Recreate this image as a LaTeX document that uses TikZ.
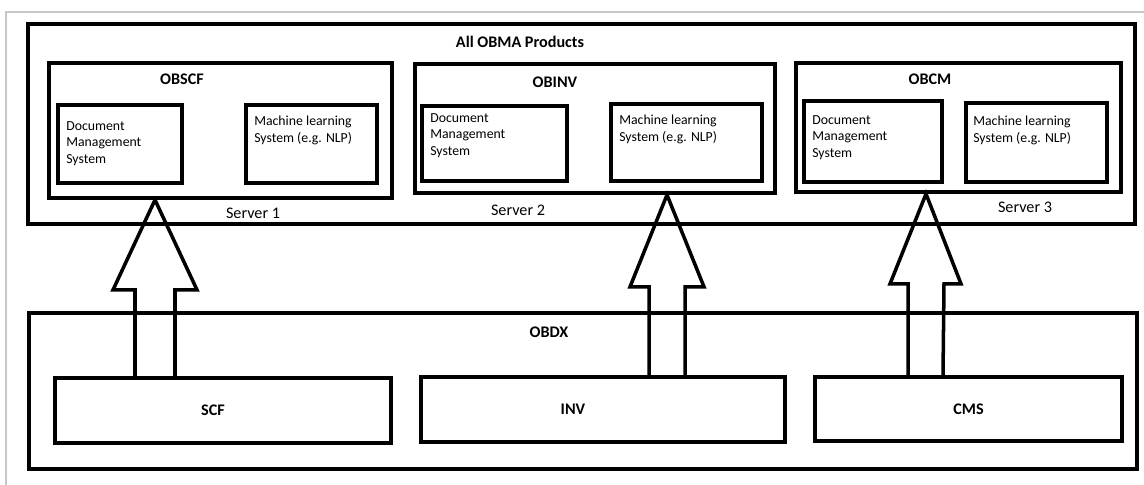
\documentclass[tikz,border=0pt]{standalone}
\usepackage{fontspec}
\setmainfont{Carlito}
\usetikzlibrary{calc}

\tikzset{
  box/.style={draw,line width=2.5pt,inner sep=0pt},
  inbox/.style={draw,line width=2.8pt,inner sep=0pt},
  title/.style={font=\fontsize{11.5}{13}\selectfont\bfseries},
  small/.style={font=\fontsize{9.8}{11.8}\selectfont,align=left,anchor=north west,inner sep=0pt},
  srv/.style={font=\fontsize{11.5}{13}\selectfont},
  fat/.style={line width=2.5pt}
}

\begin{document}
\begin{tikzpicture}[x=0.025cm,y=-0.025cm]
      \useasboundingbox (0,0) rectangle (1144,485);
      \draw[black!22,line width=1.4pt] (6,485) |- (1144,12);

      \node[box,minimum width=27.68cm,minimum height=5cm] (all) at (581.5,124) {};
      \node[title] (allt) at (520,42) {All OBMA Products};

      \node[box,minimum width=8.58cm,minimum height=3.38cm] (obscf) at (220.5,130.5) {};
      \node[title] (obscft) at (182,79) {OBSCF};
      \node[inbox,minimum width=3.1cm,minimum height=1.95cm] (dms1) at (120,144) {};
      \node[small] (dms1t) at (66,121) {Document\\Management\\System};
      \node[inbox,minimum width=3.28cm,minimum height=1.95cm] (ml1) at (311.5,144) {};
      \node[small] (ml1t) at (254,116) {Machine learning\\System (e.g. NLP)};
      \node[srv] (s1) at (253,213) {Server 1};

      \node[box,minimum width=9cm,minimum height=3.23cm] (obinv) at (595,128.5) {};
      \node[title] (obinvt) at (555,82) {OBINV};
      \node[inbox,minimum width=3.63cm,minimum height=1.88cm] (dms2) at (494.5,143.5) {};
      \node[small] (dms2t) at (430,113) {Document\\Management\\System};
      \node[inbox,minimum width=3.78cm,minimum height=1.93cm] (ml2) at (686.5,142.5) {};
      \node[small] (ml2t) at (619,115) {Machine learning\\System (e.g. NLP)};
      \node[srv] (s2) at (518,210) {Server 2};

      \node[box,minimum width=8.13cm,minimum height=3.23cm] (obcm) at (958.5,127.5) {};
      \node[title] (obcmt) at (930,79) {OBCM};
      \node[inbox,minimum width=3.45cm,minimum height=2.03cm] (dms3) at (873,141.5) {};
      \node[small] (dms3t) at (812,115) {Document\\Management\\System};
      \node[inbox,minimum width=3.53cm,minimum height=1.98cm] (ml3) at (1036.5,142.5) {};
      \node[small] (ml3t) at (973,116) {Machine learning\\System (e.g. NLP)};
      \node[srv] (s3) at (1025,207) {Server 3};

      \node[box,minimum width=27.7cm,minimum height=3.9cm] (obdx) at (583,391) {};
      \node[title] (obdxt) at (549,332) {OBDX};
      \node[inbox,minimum width=8.4cm,minimum height=1.63cm] (scf) at (223,410.5) {};
      \node[title] at (scf.center -| 213,0) {SCF};
      \node[inbox,minimum width=9.1cm,minimum height=1.63cm] (inv) at (603,409.5) {};
      \node[title] at (inv.center -| 573,0) {INV};
      \node[inbox,minimum width=7.68cm,minimum height=1.6cm] (cms) at (968.5,409) {};
      \node[title] at (cms.center) {CMS};

      \coordinate (t1) at (obscf.south -| 155,0);
      \coordinate (t2) at (obinv.south -| 667,0);
      \coordinate (t3) at (obcm.south -| 926,0);

      \draw[fat] ($(t1|-scf.north)+(-20,0)$) -- ($(t1)+(-20,90)$) -- ++(-22,0) -- (t1)
        -- ($(t1)+(42,90)$) -- ++(-22,0) -- ($(t1|-scf.north)+(20,0)$);
      \draw[fat] ($(t2|-inv.north)+(-18,0)$) -- ($(t2)+(-18,92)$) -- ++(-19,0) -- (t2)
        -- ($(t2)+(37,92)$) -- ++(-19,0) -- ($(t2|-inv.north)+(18,0)$);
      \draw[fat] ($(t3|-cms.north)+(-18,0)$) -- ($(t3)+(-18,90)$) -- ++(-18,0) -- (t3)
        -- ($(t3)+(35,90)$) -- ++(-17,0) -- ($(t3|-cms.north)+(17,0)$);
    \end{tikzpicture}
\end{document}
